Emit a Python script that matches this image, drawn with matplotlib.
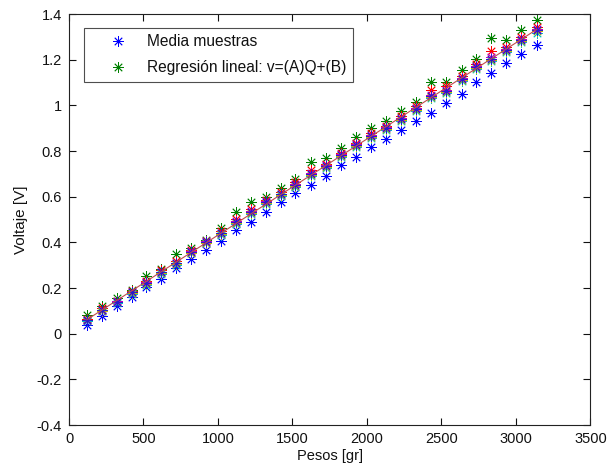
import matplotlib
matplotlib.use("Agg")
import matplotlib.pyplot as plt
import numpy as np

plt.rcParams['font.family'] = ['Liberation Sans', 'DejaVu Sans']

# Applied weights [gr]
pesos = [120, 220, 320, 420, 520, 620, 720, 820, 920, 1020, 1120, 1220, 1320,
         1420, 1520, 1625, 1725, 1825, 1925, 2030, 2130, 2230, 2330, 2430,
         2530, 2635, 2735, 2835, 2935, 3035, 3140]

# Measured voltages [V] for each series
media_muestras = [0.038, 0.078, 0.121, 0.162, 0.203, 0.240, 0.286, 0.326, 0.367,
                  0.406, 0.454, 0.490, 0.534, 0.575, 0.615, 0.651, 0.691, 0.739,
                  0.775, 0.820, 0.855, 0.891, 0.932, 0.968, 1.011, 1.052, 1.101,
                  1.141, 1.184, 1.224, 1.265]
regresion = [0.082, 0.121, 0.155, 0.190, 0.253, 0.282, 0.347, 0.374, 0.410,
             0.462, 0.534, 0.578, 0.597, 0.637, 0.678, 0.753, 0.768, 0.812,
             0.860, 0.900, 0.932, 0.975, 1.017, 1.104, 1.104, 1.155, 1.203,
             1.294, 1.286, 1.330, 1.374]
muestra_1 = [0.065, 0.112, 0.145, 0.187, 0.233, 0.277, 0.318, 0.365, 0.408,
             0.450, 0.502, 0.546, 0.586, 0.621, 0.663, 0.715, 0.744, 0.791,
             0.837, 0.877, 0.911, 0.954, 0.997, 1.068, 1.083, 1.127, 1.182,
             1.240, 1.258, 1.298, 1.345]
muestra_2 = [0.055, 0.098, 0.136, 0.176, 0.215, 0.262, 0.300, 0.352, 0.396,
             0.432, 0.480, 0.524, 0.570, 0.602, 0.642, 0.690, 0.726, 0.774,
             0.818, 0.858, 0.893, 0.932, 0.976, 1.032, 1.056, 1.106, 1.160,
             1.194, 1.232, 1.276, 1.318]
muestra_3 = [0.062, 0.106, 0.143, 0.183, 0.226, 0.271, 0.311, 0.361, 0.405,
             0.443, 0.494, 0.537, 0.580, 0.614, 0.654, 0.704, 0.737, 0.785,
             0.830, 0.870, 0.904, 0.945, 0.988, 1.046, 1.068, 1.120, 1.173,
             1.210, 1.246, 1.289, 1.333]
muestra_4 = [0.058, 0.101, 0.138, 0.178, 0.219, 0.265, 0.304, 0.355, 0.399,
             0.436, 0.485, 0.529, 0.574, 0.606, 0.646, 0.694, 0.730, 0.778,
             0.822, 0.862, 0.896, 0.936, 0.980, 1.037, 1.060, 1.111, 1.165,
             1.199, 1.237, 1.281, 1.324]
muestra_5 = [0.060, 0.104, 0.140, 0.181, 0.223, 0.269, 0.308, 0.359, 0.403,
             0.440, 0.490, 0.534, 0.578, 0.611, 0.651, 0.700, 0.734, 0.783,
             0.827, 0.867, 0.901, 0.942, 0.985, 1.043, 1.065, 1.117, 1.170,
             1.205, 1.243, 1.286, 1.330]

xticks = [0, 500, 1000, 1500, 2000, 2500, 3000, 3500]
xtick_labels = ['0', '500', '1000', '1500', '2000', '2500', '3000', '3500']
yticks = [-0.4, -0.2, 0, 0.2, 0.4, 0.6, 0.8, 1, 1.2, 1.4]
ytick_labels = ['-0.4', '-0.2', '0', '0.2', '0.4', '0.6', '0.8', '1', '1.2', '1.4']

fig = plt.figure(figsize=(6.08, 4.70), dpi=100)
ax = fig.add_axes([0.1135, 0.0957, 0.8575, 0.8743])

star = (8, 2, 0)
mk = dict(linestyle='none', marker=star, markersize=7.5, markeredgewidth=0.6)

ax.plot(pesos, media_muestras, color=(0, 0, 1), label='Media muestras', **mk)
ax.plot(pesos, regresion, color=(0, 0.5, 0), label='Regresión lineal: v=(A)Q+(B)', **mk)
ax.plot(pesos, muestra_1, color=(1, 0, 0), **mk)
ax.plot(pesos, muestra_2, color=(0, 0.75, 0.75), **mk)
ax.plot(pesos, muestra_4, color=(0.75, 0.75, 0), **mk)
ax.plot(pesos, muestra_3, color=(0.75, 0, 0.75), **mk)
ax.plot(pesos, muestra_5, color=(0.15, 0.1, 0.8), **mk)

# Linear fit over all the samples near the line
xs = np.concatenate([pesos] * 5)
ys = np.concatenate([muestra_1, muestra_2, muestra_3, muestra_4, muestra_5])
A, B = np.polyfit(xs, ys, 1)
ax.plot(pesos, np.polyval([A, B], pesos), color=(0.75, 0.3, 0.3), linewidth=0.8)

ax.set_xlim(0, 3500)
ax.set_ylim(-0.4, 1.4)
ax.set_xticks(xticks)
ax.set_xticklabels(xtick_labels)
ax.set_yticks(yticks)
ax.set_yticklabels(ytick_labels)
ax.tick_params(direction='in', top=True, right=True, length=5, width=0.8,
               labelsize=10.5, colors='#111111', pad=5)
for s in ax.spines.values():
    s.set_linewidth(0.8)
    s.set_color('#222222')

ax.set_xlabel('Pesos [gr]', fontsize=10.5, labelpad=2, color='#111111')
ax.set_ylabel('Voltaje [V]', fontsize=11, labelpad=6, color='#111111')

leg = ax.legend(loc='upper left', bbox_to_anchor=(0.0295, 0.966), fontsize=11.2,
                frameon=True, fancybox=False, borderpad=0.4, handletextpad=0.15,
                handlelength=3.5, labelspacing=0.72, borderaxespad=0)
leg.get_frame().set_edgecolor('#222222')
leg.get_frame().set_linewidth(0.8)
for t in leg.get_texts():
    t.set_color('#111111')

fig.savefig('out.png', dpi=100, facecolor='white')
